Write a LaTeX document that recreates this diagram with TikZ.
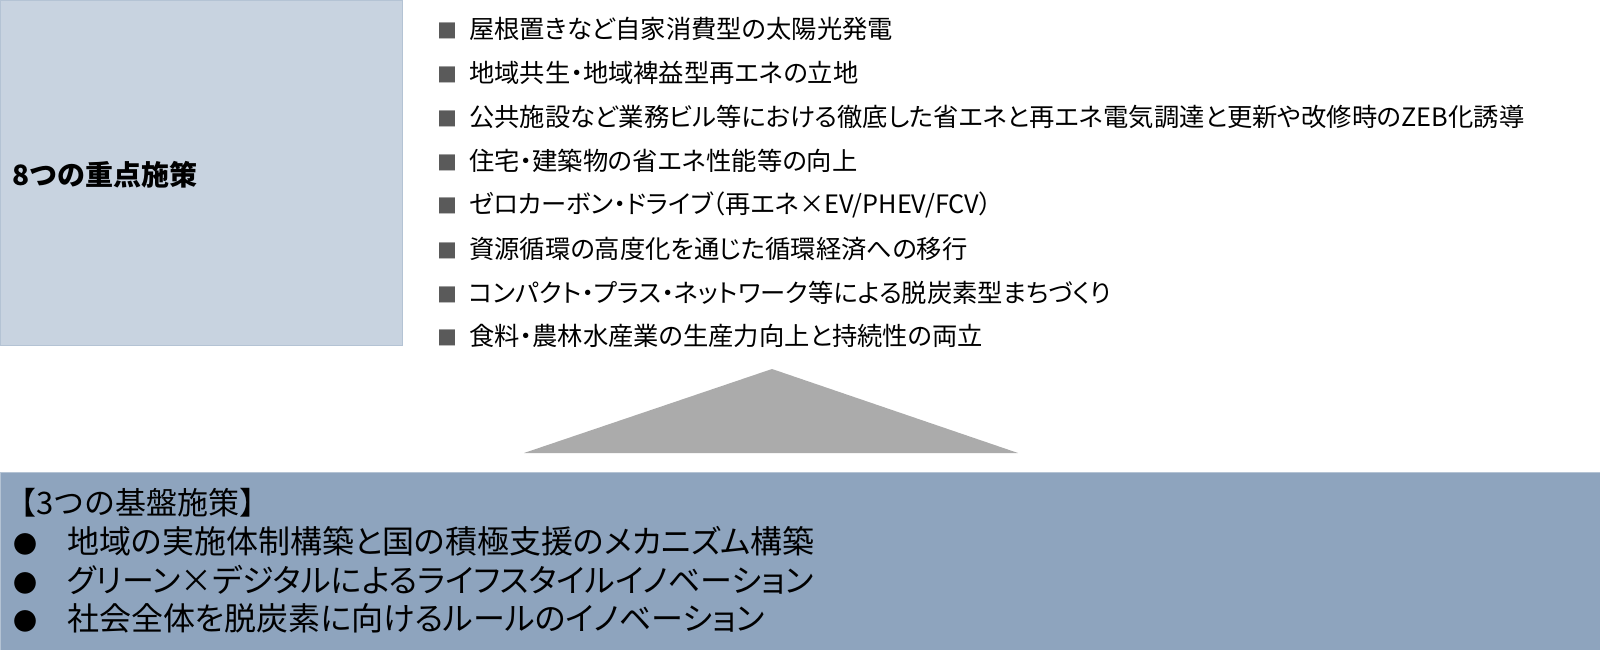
\documentclass[tikz,border=0pt]{standalone}
\usepackage{fontspec}
\setmainfont{Noto Sans CJK JP}
\newfontfamily\jpprop{Noto Sans CJK JP}[RawFeature=+palt]
\definecolor{boxlight}{HTML}{C8D3E0}
\definecolor{boxdark}{HTML}{8EA4BE}
\definecolor{edgelight}{HTML}{B4C3D4}
\definecolor{trigray}{HTML}{ABABAB}
\definecolor{sqgray}{HTML}{5A5A5A}
\newcommand{\sqmark}{{\color{sqgray}\fontsize{20}{20}\selectfont■}\hspace{12pt}}
\newcommand{\dotmark}{\makebox[54pt][l]{\fontsize{24}{24}\selectfont●}}

\begin{document}
\begin{tikzpicture}[x=1pt,y=-1pt,
  item/.style={anchor=west,inner sep=0pt,font=\jpprop\fontsize{25.3}{25}\selectfont},
  baseitem/.style={anchor=west,inner sep=0pt,font=\jpprop\fontsize{32}{32}\selectfont}]
\useasboundingbox (0,0) rectangle (1600,650);

% upper box
\draw[edgelight,fill=boxlight] (0,0) rectangle (402,345);
\node[anchor=west,inner sep=0pt,font=\bfseries\fontsize{28}{28}\selectfont] (title8) at (12,175) {8つの重点施策};

\node[item] (m1) at (437,29) {\sqmark 屋根置きなど自家消費型の太陽光発電};
\node[item] (m2) at (437,73) {\sqmark 地域共生・地域裨益型再エネの立地};
\node[item] (m3) at (437,117) {\sqmark 公共施設など業務ビル等における徹底した省エネと再エネ電気調達と更新や改修時のZEB化誘導};
\node[item] (m4) at (437,161) {\sqmark 住宅・建築物の省エネ性能等の向上};
\node[item] (m5) at (437,205) {\sqmark ゼロカーボン・ドライブ（再エネ×EV/PHEV/FCV）};
\node[item] (m6) at (437,249) {\sqmark 資源循環の高度化を通じた循環経済への移行};
\node[item] (m7) at (437,293) {\sqmark コンパクト・プラス・ネットワーク等による脱炭素型まちづくり};
\node[item] (m8) at (437,336) {\sqmark 食料・農林水産業の生産力向上と持続性の両立};

% triangle
\fill[trigray] (524,453) -- (772,369) -- (1018,453) -- cycle;

% lower box
\draw[edgelight,fill=boxdark] (0,472) rectangle (1600,650);
\node[anchor=west,inner sep=0pt,font=\fontsize{31}{31}\selectfont] (head3) at (5,503) {【3つの基盤施策】};
\node[baseitem] (b1) at (13,541) {\dotmark 地域の実施体制構築と国の積極支援のメカニズム構築};
\node[baseitem] (b2) at (13,580) {\dotmark グリーン×デジタルによるライフスタイルイノベーション};
\node[baseitem] (b3) at (13,618) {\dotmark 社会全体を脱炭素に向けるルールのイノベーション};
\end{tikzpicture}
\end{document}
